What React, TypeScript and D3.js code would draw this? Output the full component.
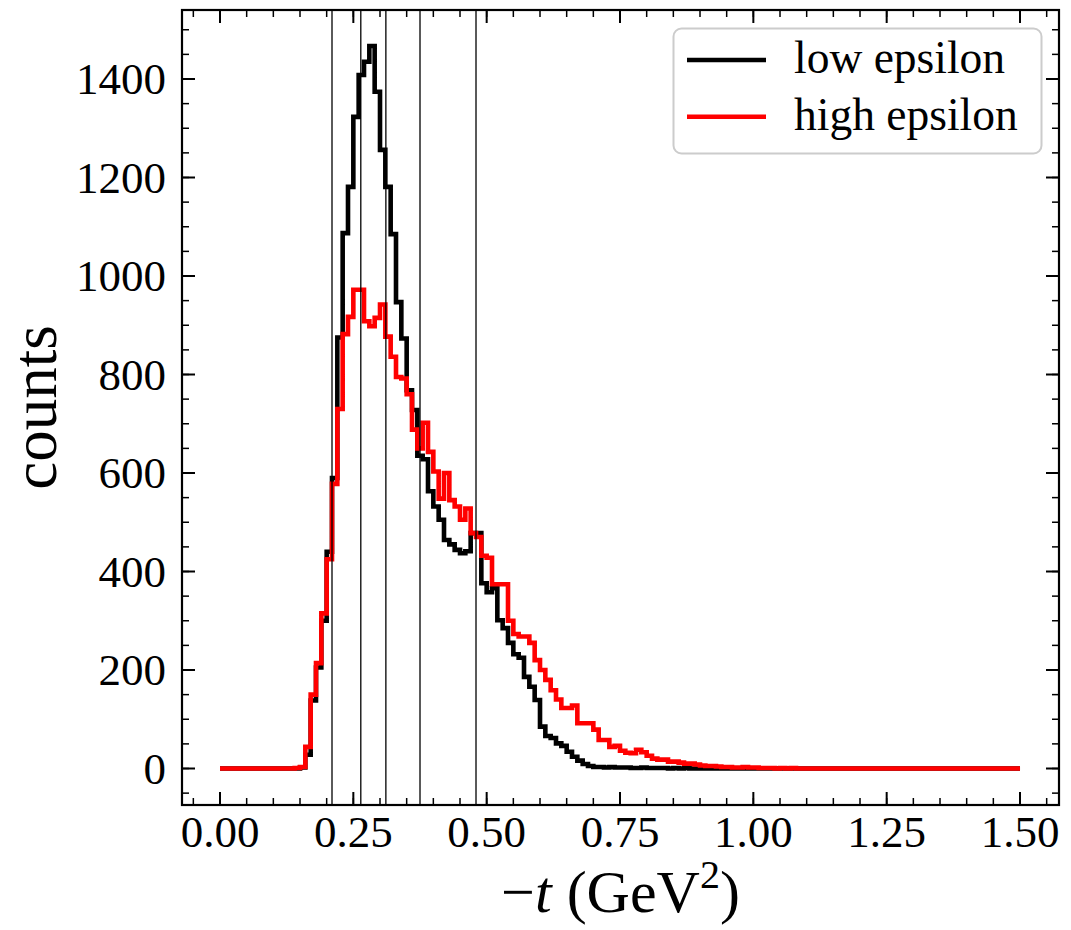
import React from "react";
import * as d3 from "d3";

// ---- data ----
const binStart = 0;
const binWidth = 0.01;

// low epsilon counts, 150 bins of 0.01 from 0 to 1.5
const lowEpsilon = [
  0, 0, 0, 0, 0, 0, 0, 0, 0, 0, 0, 0, 0, 0, 0, 2, 28, 138, 205, 300,
  440, 590, 875, 1087, 1181, 1323, 1408, 1435, 1467, 1374, 1256, 1181, 1085, 947, 873, 768, 728, 635, 628, 563,
  532, 505, 464, 455, 444, 437, 441, 478, 478, 376, 358, 366, 301, 285, 255, 232, 225, 186, 166, 139,
  85, 66, 62, 51, 46, 34, 24, 16, 9, 5, 3, 3, 2, 3, 2, 2, 2, 1, 1, 2,
  1, 1, 1, 1, 0, 1, 0, 1, 0, 0, 0, 0, 0, 0, 0, 0, 0, 0, 0, 0,
  0, 0, 0, 0, 0, 0, 0, 0, 0, 0, 0, 0, 0, 0, 0, 0, 0, 0, 0, 0,
  0, 0, 0, 0, 0, 0, 0, 0, 0, 0, 0, 0, 0, 0, 0, 0, 0, 0, 0, 0,
  0, 0, 0, 0, 0, 0, 0, 0, 0, 0,
];

// high epsilon counts
const highEpsilon = [
  0, 0, 0, 0, 0, 0, 0, 0, 0, 0, 0, 0, 0, 0, 1, 3, 44, 150, 214, 315,
  425, 578, 730, 882, 917, 972, 972, 908, 898, 915, 942, 877, 836, 795, 792, 760, 688, 650, 702, 643,
  603, 548, 600, 545, 532, 505, 528, 478, 470, 432, 428, 374, 374, 374, 300, 273, 268, 268, 255, 220,
  200, 180, 159, 140, 123, 123, 128, 92, 92, 92, 79, 58, 58, 44, 46, 36, 32, 31, 38, 33,
  26, 20, 18, 18, 14, 14, 12, 10, 10, 8, 6, 5, 5, 4, 3, 3, 2, 2, 3, 2,
  2, 1, 1, 1, 0, 1, 0, 1, 0, 0, 0, 0, 0, 0, 0, 0, 0, 0, 0, 0,
  0, 0, 0, 0, 0, 0, 0, 0, 0, 0, 0, 0, 0, 0, 0, 0, 0, 0, 0, 0,
  0, 0, 0, 0, 0, 0, 0, 0, 0, 0,
];

const cutLines = [0.21, 0.264, 0.311, 0.375, 0.48];
const xTicks = [0, 0.25, 0.5, 0.75, 1.0, 1.25, 1.5];
const yTicks = [0, 200, 400, 600, 800, 1000, 1200, 1400];
const seriesNames = ["low epsilon", "high epsilon"];
const seriesColors = ["#000000", "#ff0000"];

// ---- layout ----
const W = 1071;
const H = 930;
const L = 182;
const R = 1059;
const T = 10;
const B = 805;
const FONT = "'Liberation Serif', 'DejaVu Serif', serif";

export default function App() {
  const x = d3.scaleLinear().domain([-0.07125, 1.5731]).range([L, R]);
  const y = d3.scaleLinear().domain([-74.1, 1540.1]).range([B, T]);

  const stepPath = (counts: number[]) => {
    const pts: [number, number][] = [[binStart, 0]];
    counts.forEach((c, i) => {
      pts.push([binStart + i * binWidth, c]);
    });
    const end = binStart + counts.length * binWidth;
    pts.push([end, counts[counts.length - 1]]);
    pts.push([end, 0]);
    const line = d3
      .line<[number, number]>()
      .x((d) => x(d[0]))
      .y((d) => y(d[1]))
      .curve(d3.curveStepAfter);
    return line(pts) || "";
  };

  const xMinor = d3.range(-0.05, 1.56, 0.05).filter((v) => v >= x.domain()[0] && v <= x.domain()[1]);
  const yMinor = d3.range(-50, 1541, 50).filter((v) => v >= y.domain()[0] && v <= y.domain()[1]);

  const MAJ = 13;
  const MIN = 7;
  const LW = 4.6;

  return (
    <svg
      width={W}
      height={H}
      style={{ position: "absolute", left: 0, top: 0, background: "#fff" }}
      fontFamily={FONT}
    >
      <rect x={0} y={0} width={W} height={H} fill="#fff" />
      {/* histograms */}
      <path d={stepPath(lowEpsilon)} fill="none" stroke={seriesColors[0]} strokeWidth={LW} strokeLinejoin="miter" />
      <path d={stepPath(highEpsilon)} fill="none" stroke={seriesColors[1]} strokeWidth={LW} strokeLinejoin="miter" />
      {/* cut lines */}
      {cutLines.map((v, i) => (
        <line key={"c" + i} x1={x(v)} x2={x(v)} y1={T} y2={B} stroke="#000" strokeWidth={1.3} />
      ))}
      {/* ticks */}
      {xTicks.map((v, i) => (
        <g key={"xt" + i}>
          <line x1={x(v)} x2={x(v)} y1={B} y2={B - MAJ} stroke="#000" strokeWidth={2} />
          <line x1={x(v)} x2={x(v)} y1={T} y2={T + MAJ} stroke="#000" strokeWidth={2} />
          <text x={x(v)} y={847} textAnchor="middle" fontSize={45}>
            {v.toFixed(2)}
          </text>
        </g>
      ))}
      {xMinor.map((v, i) => (
        <g key={"xm" + i}>
          <line x1={x(v)} x2={x(v)} y1={B} y2={B - MIN} stroke="#000" strokeWidth={1.5} />
          <line x1={x(v)} x2={x(v)} y1={T} y2={T + MIN} stroke="#000" strokeWidth={1.5} />
        </g>
      ))}
      {yTicks.map((v, i) => (
        <g key={"yt" + i}>
          <line x1={L} x2={L + MAJ} y1={y(v)} y2={y(v)} stroke="#000" strokeWidth={2} />
          <line x1={R} x2={R - MAJ} y1={y(v)} y2={y(v)} stroke="#000" strokeWidth={2} />
          <text x={166} y={y(v) + 15} textAnchor="end" fontSize={45}>
            {String(v)}
          </text>
        </g>
      ))}
      {yMinor.map((v, i) => (
        <g key={"ym" + i}>
          <line x1={L} x2={L + MIN} y1={y(v)} y2={y(v)} stroke="#000" strokeWidth={1.5} />
          <line x1={R} x2={R - MIN} y1={y(v)} y2={y(v)} stroke="#000" strokeWidth={1.5} />
        </g>
      ))}
      {/* spines */}
      <rect x={L} y={T} width={R - L} height={B - T} fill="none" stroke="#000" strokeWidth={2.2} />
      {/* legend */}
      <g>
        <rect x={673.5} y={28.5} width={368} height={125} rx={8} ry={8} fill="#fff" fillOpacity={0.8} stroke="#cccccc" strokeWidth={2} />
        {seriesNames.map((name, i) => (
          <g key={"lg" + i}>
            <line x1={687} x2={766} y1={60 + i * 56.7} y2={60 + i * 56.7} stroke={seriesColors[i]} strokeWidth={LW} />
            <text x={794} y={73 + i * 56.7} fontSize={45.5}>
              {name}
            </text>
          </g>
        ))}
      </g>
      {/* axis labels */}
      <text x={(L + R) / 2} y={912} textAnchor="middle" fontSize={60}>
        <tspan>−</tspan>
        <tspan fontStyle="italic">t</tspan>
        <tspan> (GeV</tspan>
        <tspan fontSize={40} dy={-24}>2</tspan>
        <tspan dy={24}>)</tspan>
      </text>
      <text transform={`translate(56, ${(T + B) / 2}) rotate(-90)`} textAnchor="middle" fontSize={63}>
        counts
      </text>
    </svg>
  );
}
